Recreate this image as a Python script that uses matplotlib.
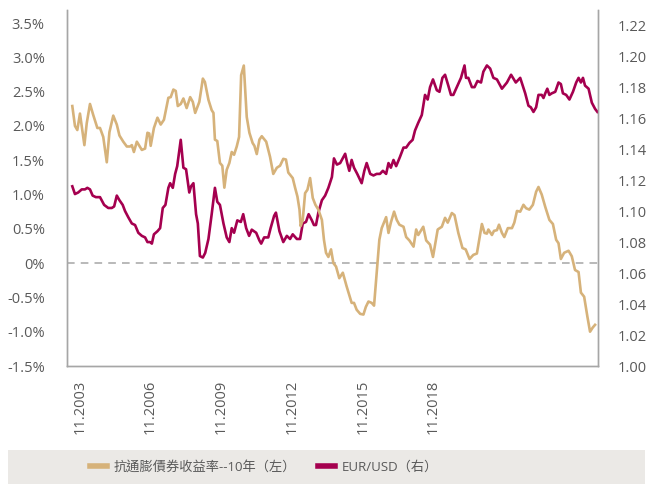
import matplotlib
matplotlib.use("Agg")
import matplotlib.pyplot as plt
from matplotlib.lines import Line2D

# ---- data ----
tips_t = [2003.01, 2003.10, 2003.18, 2003.27, 2003.42, 2003.50, 2003.61, 2003.72, 2003.86, 2003.95,
          2004.06, 2004.18, 2004.27, 2004.40, 2004.52, 2004.61, 2004.74, 2004.86, 2004.97, 2005.03,
          2005.10, 2005.20, 2005.37, 2005.48, 2005.56, 2005.62, 2005.67, 2005.78, 2005.90, 2006.01,
          2006.12, 2006.27, 2006.35, 2006.44, 2006.52, 2006.59, 2006.69, 2006.78, 2006.89, 2007.01,
          2007.10, 2007.18, 2007.32, 2007.44, 2007.51, 2007.63, 2007.74, 2007.80, 2007.85, 2007.93,
          2008.02, 2008.10, 2008.17, 2008.25, 2008.34, 2008.42, 2008.50, 2008.59, 2008.67, 2008.74,
          2008.83, 2008.93, 2009.02, 2009.13, 2009.19, 2009.27, 2009.36, 2009.44, 2009.59, 2009.72,
          2009.83, 2009.95, 2010.06, 2010.17, 2010.26, 2010.34, 2010.49, 2010.57, 2010.65, 2010.72,
          2010.76, 2010.83, 2010.91, 2010.99, 2011.08, 2011.17, 2011.26, 2011.36, 2011.48, 2011.55,
          2011.62, 2011.70, 2011.79, 2011.87, 2011.96, 2012.07, 2012.19, 2012.32, 2012.44, 2012.49,
          2012.57, 2012.66, 2012.78, 2012.89, 2012.97, 2013.06, 2013.17, 2013.25, 2013.34, 2013.43,
          2013.51, 2013.66, 2013.74, 2013.82, 2013.93, 2014.02, 2014.11, 2014.25, 2014.34, 2014.45,
          2014.59, 2014.68, 2014.75, 2014.92, 2015.02, 2015.15, 2015.25, 2015.41, 2015.55, 2015.66,
          2015.75, 2015.89, 2015.98, 2016.11, 2016.25, 2016.36, 2016.49, 2016.62, 2016.74, 2016.91,
          2017.00, 2017.08, 2017.13, 2017.25, 2017.32, 2017.42, 2017.49, 2017.59, 2017.67, 2017.79,
          2017.93, 2018.01, 2018.10, 2018.21, 2018.32, 2018.41, 2018.52, 2018.64, 2018.75, 2018.83,
          2018.94, 2019.06, 2019.20, 2019.32, 2019.43, 2019.51, 2019.59, 2019.70, 2019.85, 2019.96,
          2020.07, 2020.19, 2020.27, 2020.38, 2020.49, 2020.58, 2020.67, 2020.75]
tips = [2.29, 2.00, 1.94, 2.18, 1.72, 2.04, 2.32, 2.16, 1.97, 1.97,
        1.84, 1.47, 1.91, 2.15, 2.02, 1.86, 1.77, 1.70, 1.70, 1.72,
        1.62, 1.77, 1.65, 1.67, 1.90, 1.89, 1.71, 1.97, 2.12, 2.02,
        2.09, 2.41, 2.42, 2.53, 2.51, 2.29, 2.32, 2.40, 2.26, 2.42,
        2.35, 2.19, 2.35, 2.69, 2.64, 2.38, 2.23, 2.19, 1.80, 1.78,
        1.46, 1.42, 1.10, 1.36, 1.46, 1.62, 1.58, 1.70, 1.84, 2.74,
        2.88, 2.13, 1.90, 1.75, 1.71, 1.59, 1.80, 1.85, 1.77, 1.55,
        1.30, 1.39, 1.42, 1.52, 1.51, 1.32, 1.24, 1.10, 0.97, 0.78,
        0.54, 0.63, 1.02, 1.07, 1.24, 0.95, 0.85, 0.78, 0.63, 0.34,
        0.15, 0.09, 0.20, 0.00, -0.05, -0.22, -0.14, -0.34, -0.51, -0.58,
        -0.58, -0.68, -0.74, -0.75, -0.64, -0.56, -0.58, -0.62, -0.14, 0.34,
        0.51, 0.67, 0.44, 0.59, 0.75, 0.63, 0.56, 0.53, 0.38, 0.33,
        0.24, 0.49, 0.41, 0.53, 0.33, 0.27, 0.09, 0.49, 0.53, 0.66,
        0.59, 0.73, 0.70, 0.44, 0.22, 0.20, 0.06, 0.12, 0.14, 0.57,
        0.44, 0.43, 0.49, 0.41, 0.47, 0.48, 0.56, 0.44, 0.38, 0.51,
        0.51, 0.59, 0.76, 0.75, 0.85, 0.80, 0.78, 0.85, 1.04, 1.11,
        1.00, 0.82, 0.63, 0.57, 0.34, 0.29, 0.06, 0.15, 0.18, 0.10,
        -0.10, -0.13, -0.43, -0.49, -0.78, -1.00, -0.94, -0.90]

eur_t = [2003.01, 2003.10, 2003.21, 2003.33, 2003.44, 2003.52, 2003.61, 2003.70, 2003.81, 2003.95,
         2004.09, 2004.23, 2004.35, 2004.43, 2004.52, 2004.61, 2004.72, 2004.80, 2004.91, 2005.03,
         2005.14, 2005.25, 2005.37, 2005.48, 2005.56, 2005.65, 2005.71, 2005.78, 2005.90, 2005.99,
         2006.08, 2006.17, 2006.27, 2006.33, 2006.42, 2006.50, 2006.57, 2006.69, 2006.78, 2006.87,
         2006.98, 2007.04, 2007.12, 2007.21, 2007.27, 2007.34, 2007.44, 2007.52, 2007.63, 2007.74,
         2007.85, 2007.93, 2008.02, 2008.14, 2008.25, 2008.34, 2008.42, 2008.50, 2008.61, 2008.73,
         2008.81, 2008.91, 2009.01, 2009.10, 2009.25, 2009.36, 2009.42, 2009.52, 2009.66, 2009.74,
         2009.86, 2009.92, 2010.04, 2010.17, 2010.29, 2010.40, 2010.49, 2010.63, 2010.74, 2010.83,
         2010.94, 2011.03, 2011.14, 2011.21, 2011.28, 2011.36, 2011.48, 2011.59, 2011.70, 2011.82,
         2011.89, 2011.99, 2012.10, 2012.27, 2012.34, 2012.41, 2012.49, 2012.57, 2012.68, 2012.83,
         2012.92, 2013.00, 2013.12, 2013.23, 2013.34, 2013.45, 2013.55, 2013.66, 2013.74, 2013.82,
         2013.91, 2014.00, 2014.13, 2014.25, 2014.34, 2014.45, 2014.56, 2014.64, 2014.75, 2014.87,
         2014.98, 2015.07, 2015.15, 2015.25, 2015.38, 2015.47, 2015.57, 2015.66, 2015.77, 2015.86,
         2015.94, 2016.06, 2016.20, 2016.32, 2016.37, 2016.45, 2016.57, 2016.66, 2016.76, 2016.88,
         2016.96, 2017.08, 2017.19, 2017.30, 2017.42, 2017.59, 2017.76, 2017.90, 2018.06, 2018.21,
         2018.38, 2018.49, 2018.57, 2018.66, 2018.75, 2018.83, 2018.94, 2019.00, 2019.06, 2019.13,
         2019.20, 2019.28, 2019.40, 2019.51, 2019.59, 2019.66, 2019.77, 2019.88, 2020.00, 2020.11,
         2020.19, 2020.27, 2020.34, 2020.41, 2020.53, 2020.64, 2020.75, 2020.83]
eur = [1.116, 1.111, 1.112, 1.114, 1.114, 1.115, 1.114, 1.110, 1.109, 1.109,
       1.104, 1.102, 1.102, 1.103, 1.110, 1.107, 1.104, 1.100, 1.096, 1.092,
       1.091, 1.086, 1.084, 1.083, 1.080, 1.080, 1.079, 1.085, 1.087, 1.089,
       1.102, 1.104, 1.115, 1.118, 1.115, 1.124, 1.129, 1.146, 1.128, 1.127,
       1.112, 1.116, 1.118, 1.098, 1.092, 1.071, 1.070, 1.073, 1.082, 1.098,
       1.115, 1.106, 1.104, 1.092, 1.083, 1.080, 1.089, 1.086, 1.094, 1.093,
       1.098, 1.089, 1.084, 1.088, 1.086, 1.081, 1.079, 1.083, 1.083, 1.089,
       1.097, 1.099, 1.087, 1.080, 1.084, 1.082, 1.085, 1.082, 1.082, 1.092,
       1.093, 1.098, 1.094, 1.091, 1.091, 1.099, 1.107, 1.110, 1.115, 1.122,
       1.134, 1.130, 1.131, 1.137, 1.131, 1.126, 1.133, 1.128, 1.124, 1.118,
       1.126, 1.131, 1.124, 1.123, 1.124, 1.124, 1.126, 1.124, 1.131, 1.128,
       1.133, 1.129, 1.135, 1.141, 1.141, 1.144, 1.146, 1.152, 1.157, 1.162,
       1.175, 1.172, 1.180, 1.185, 1.178, 1.177, 1.186, 1.188, 1.181, 1.175,
       1.175, 1.180, 1.186, 1.194, 1.186, 1.186, 1.180, 1.180, 1.184, 1.183,
       1.190, 1.194, 1.192, 1.186, 1.185, 1.179, 1.183, 1.188, 1.183, 1.186,
       1.176, 1.168, 1.167, 1.164, 1.167, 1.175, 1.175, 1.173, 1.176, 1.179,
       1.175, 1.176, 1.177, 1.183, 1.182, 1.176, 1.175, 1.172, 1.177, 1.183,
       1.186, 1.183, 1.186, 1.181, 1.179, 1.170, 1.166, 1.164]

left_ticks = [-1.5, -1.0, -0.5, 0.0, 0.5, 1.0, 1.5, 2.0, 2.5, 3.0, 3.5]
left_labels = ["-1.5%", "-1.0%", "-0.5%", "0%", "0.5%", "1.0%", "1.5%", "2.0%", "2.5%", "3.0%", "3.5%"]
right_ticks = [1.00, 1.02, 1.04, 1.06, 1.08, 1.10, 1.12, 1.14, 1.16, 1.18, 1.20, 1.22]
x_tick_pos = [2003.27, 2005.65, 2008.06, 2010.47, 2012.88, 2015.25]
x_tick_labels = ["11.2003", "11.2006", "11.2009", "11.2012", "11.2015", "11.2018"]
series_names = ["抗通膨債券收益率--10年（左）", "EUR/USD（右）"]

GOLD = "#D6B27A"
CRIMSON = "#A5004F"
TXT = "#595959"
SPINE = "#A6A6A6"

plt.rcParams['font.family'] = ['Open Sans', 'Noto Sans CJK TC', 'DejaVu Sans']

fig = plt.figure(figsize=(6.49, 4.84), dpi=100)
ax = fig.add_axes([67/649, 1-366/484, (598-67)/649, (366-10)/484])
ax2 = ax.twinx()

ax.plot(tips_t, tips, color=GOLD, lw=1.9, solid_joinstyle='round', zorder=3)
ax2.plot(eur_t, eur, color=CRIMSON, lw=1.9, solid_joinstyle='round', zorder=3)
ax.axhline(0, color="#A6A6A6", lw=1.1, ls=(0, (5, 4)), zorder=2)

ax.set_xlim(2002.83, 2020.85)
ax.set_ylim(-1.5, 3.69)
ax2.set_ylim(1.0, 1.2298)

ax.set_yticks(left_ticks)
ax.set_yticklabels(left_labels)
ax2.set_yticks(right_ticks)
ax2.set_yticklabels([f"{v:.2f}" for v in right_ticks])
ax.set_xticks(x_tick_pos)
ax.set_xticklabels(x_tick_labels, rotation=90)

for a in (ax, ax2):
    a.tick_params(length=0, colors=TXT, labelsize=10.5)
    a.spines['top'].set_visible(False)
    for s in ('left', 'right', 'bottom'):
        a.spines[s].set_color(SPINE)
        a.spines[s].set_linewidth(1.0)
ax.tick_params(axis='y', pad=16)
ax2.tick_params(axis='y', pad=14)
ax.tick_params(axis='x', pad=10)
ax.set_zorder(ax2.get_zorder() + 1)
ax.patch.set_visible(False)

# legend band
band = plt.Rectangle((8/649, 0), (645-8)/649, 34/484, transform=fig.transFigure,
                     facecolor="#EBE9E6", edgecolor='none', zorder=0)
fig.patches.append(band)
handles = [Line2D([], [], color=GOLD, lw=4), Line2D([], [], color=CRIMSON, lw=4)]
fig.legend(handles, series_names, loc='center', bbox_to_anchor=(264/649, 17/484),
           ncol=2, frameon=False, fontsize=9.5, labelcolor=TXT,
           handlelength=1.3, handletextpad=0.55, columnspacing=1.6)

fig.savefig("out.png", dpi=100)
